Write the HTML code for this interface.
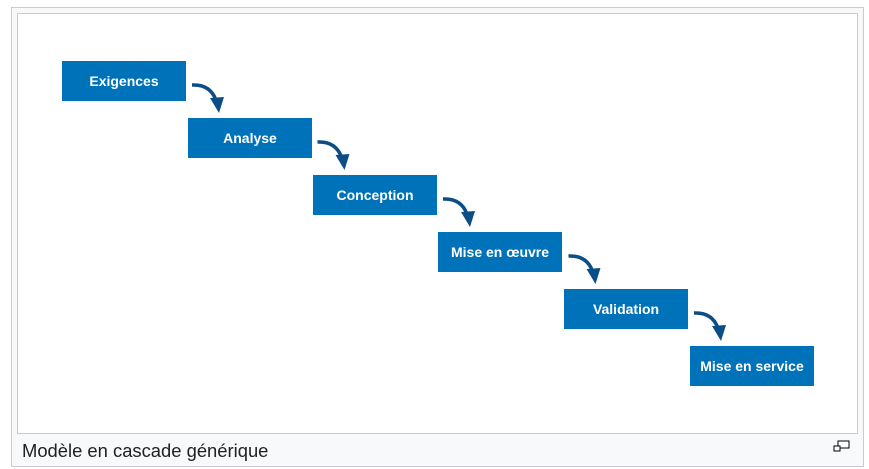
<html><head><style>
body{margin:0;background:#fff;width:869px;height:469px;position:relative;font-family:"Liberation Sans",sans-serif}
.outer{position:absolute;left:11px;top:7px;width:853px;height:460px;border:1px solid #c8ccd1;background:#f8f9fa;box-sizing:border-box}
.inner{position:absolute;left:17px;top:13px;width:841px;height:421px;border:1px solid #c8ccd1;background:#fff;box-sizing:border-box}
.b{position:absolute;width:124px;height:40px;background:#0072b9;color:#fff;font-weight:bold;font-size:14px;line-height:40px;text-align:center}
.cap{position:absolute;left:22px;top:440px;font-size:18.4px;color:#202122}
</style></head><body>
<div class="outer"></div><div class="inner"></div>
<div class="b" style="left:62px;top:61px">Exigences</div>
<div class="b" style="left:188px;top:118px">Analyse</div>
<div class="b" style="left:313px;top:175px">Conception</div>
<div class="b" style="left:438px;top:232px">Mise en œuvre</div>
<div class="b" style="left:564px;top:289px">Validation</div>
<div class="b" style="left:690px;top:346px">Mise en service</div>
<svg style="position:absolute;left:0;top:0" width="869" height="469">
<defs><g id="a"><path d="M192 85 Q210 84 216 100" stroke="#0b4d85" stroke-width="3.5" fill="none"/><path d="M210 98 L224 97 L219 113 Z" fill="#0b4d85"/></g></defs>
<use href="#a"/><use href="#a" transform="translate(125.5,57)"/><use href="#a" transform="translate(251,114)"/><use href="#a" transform="translate(376.5,171)"/><use href="#a" transform="translate(502,228)"/>
<rect x="838" y="441" width="11" height="7" fill="#fff" stroke="#000"/><rect x="834" y="446" width="6" height="5" fill="#fff" stroke="#000"/>
</svg>
<div class="cap">Modèle en cascade générique</div>
</body></html>
